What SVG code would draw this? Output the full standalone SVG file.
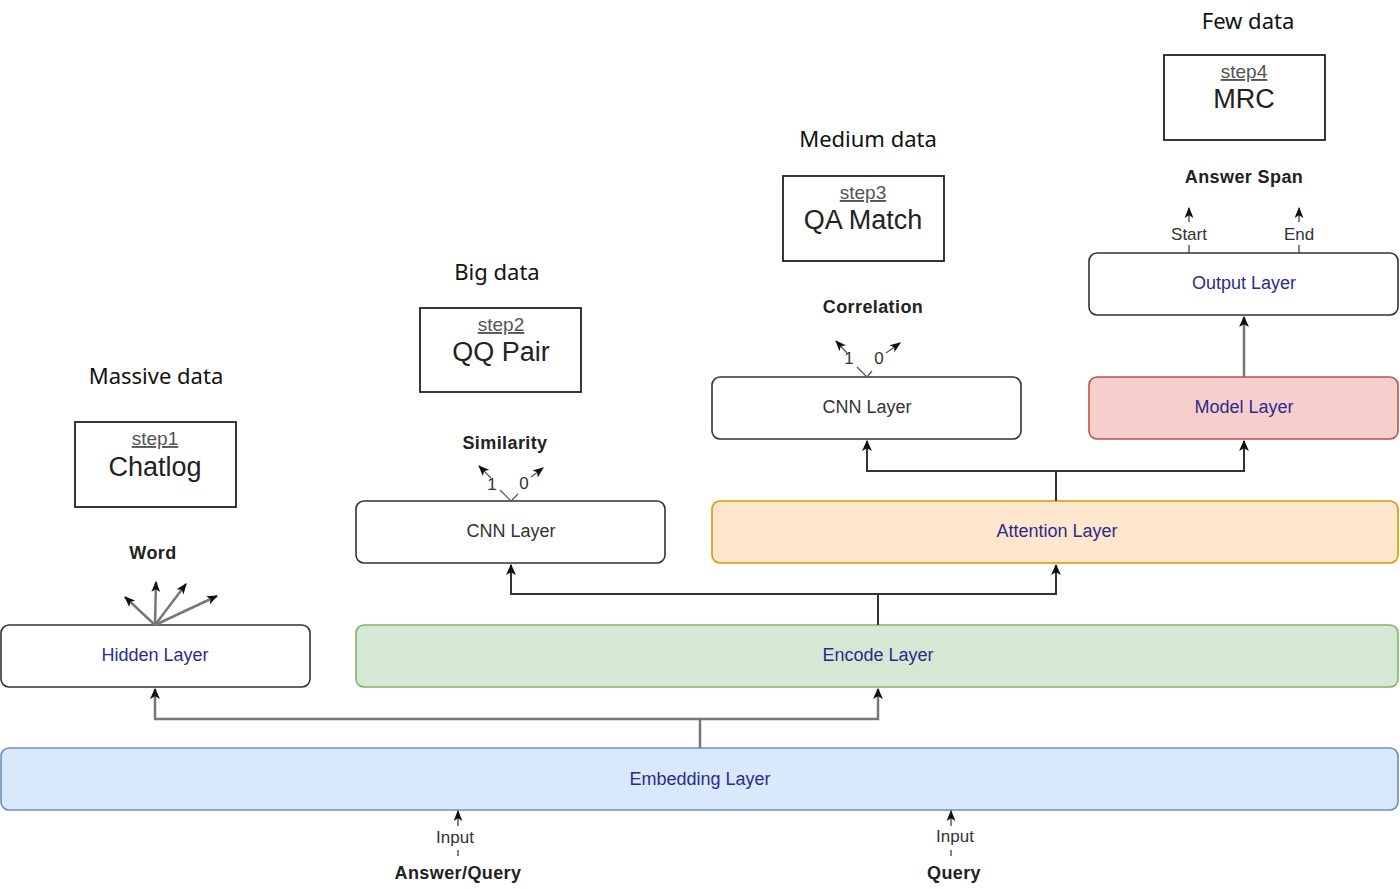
<svg xmlns="http://www.w3.org/2000/svg" width="1400" height="889" viewBox="0 0 1400 889">
<defs>
<marker id="ah" viewBox="0 0 10 10" refX="9" refY="5" markerWidth="11" markerHeight="11" orient="auto" markerUnits="userSpaceOnUse">
<path d="M0,0.5 L10,5 L0,9.5 L2.5,5 Z" fill="#111"/>
</marker>
<marker id="ahs" viewBox="0 0 10 10" refX="9" refY="5" markerWidth="11" markerHeight="11" orient="auto" markerUnits="userSpaceOnUse">
<path d="M0,1 L10,5 L0,9 L2.5,5 Z" fill="#111"/>
</marker>
<style>
.layer{stroke-width:1.6}
.white{fill:#fff;stroke:#333}
.blue{fill:#dae8fc;stroke:#6c8ebf}
.green{fill:#d5e8d4;stroke:#82b366}
.orange{fill:#ffe6cc;stroke:#d79b00}
.red{fill:#f8cecc;stroke:#b85450}
.ltxt{font-family:"Liberation Sans",Arial,sans-serif;font-size:18px;text-anchor:middle;fill:#2b2b8c}
.gtxt{font-family:"Liberation Sans",Arial,sans-serif;font-size:18px;text-anchor:middle;fill:#333}
.step{fill:#fff;stroke:#222;stroke-width:1.8}
.stxt{font-family:"Liberation Sans",Arial,sans-serif;font-size:19px;text-anchor:middle;fill:#555;text-decoration:underline}
.mtxt{font-family:"Liberation Sans",Arial,sans-serif;font-size:27px;text-anchor:middle;fill:#222}
.title{font-family:"Noto Sans","Open Sans",sans-serif;font-size:22px;text-anchor:middle;fill:#111}
.bold{font-family:"Liberation Sans",Arial,sans-serif;font-size:18px;font-weight:bold;text-anchor:middle;fill:#222;letter-spacing:0.4px}
.small{font-family:"Liberation Sans",Arial,sans-serif;font-size:17px;text-anchor:middle;fill:#333}
.c{fill:none;stroke:#333;stroke-width:2}
.cg{fill:none;stroke:#777;stroke-width:2.5}
</style>
</defs>

<g id="titles">
<text class="title" x="156" y="384">Massive data</text>
<text class="title" x="497" y="280">Big data</text>
<text class="title" x="868" y="147">Medium data</text>
<text class="title" x="1248" y="29">Few data</text>
</g>

<g id="step1"><rect class="step" x="75" y="422" width="161" height="85"/><text class="stxt" x="155" y="445">step1</text><text class="mtxt" x="155" y="476">Chatlog</text></g>
<g id="step2"><rect class="step" x="420" y="308" width="161" height="84"/><text class="stxt" x="501" y="331">step2</text><text class="mtxt" x="501" y="361">QQ Pair</text></g>
<g id="step3"><rect class="step" x="783" y="176" width="161" height="85"/><text class="stxt" x="863" y="199">step3</text><text class="mtxt" x="863" y="229">QA Match</text></g>
<g id="step4"><rect class="step" x="1164" y="55" width="161" height="85"/><text class="stxt" x="1244" y="78">step4</text><text class="mtxt" x="1244" y="108">MRC</text></g>

<g id="embedding"><rect class="layer blue" x="1" y="748" width="1397" height="62" rx="8"/><text class="ltxt" x="700" y="785">Embedding Layer</text></g>
<g id="hidden"><rect class="layer white" x="1" y="625" width="309" height="62" rx="8"/><text class="ltxt" x="155" y="661">Hidden Layer</text></g>
<g id="encode"><rect class="layer green" x="356" y="625" width="1042" height="62" rx="8"/><text class="ltxt" x="878" y="661">Encode Layer</text></g>
<g id="cnn1"><rect class="layer white" x="356" y="501" width="309" height="62" rx="8"/><text class="gtxt" x="511" y="537">CNN Layer</text></g>
<g id="attention"><rect class="layer orange" x="712" y="501" width="686" height="62" rx="8"/><text class="ltxt" x="1057" y="537">Attention Layer</text></g>
<g id="cnn2"><rect class="layer white" x="712" y="377" width="309" height="62" rx="8"/><text class="gtxt" x="867" y="413">CNN Layer</text></g>
<g id="model"><rect class="layer red" x="1089" y="377" width="309" height="62" rx="8"/><text class="ltxt" x="1244" y="413">Model Layer</text></g>
<g id="output"><rect class="layer white" x="1089" y="253" width="309" height="62" rx="8"/><text class="ltxt" x="1244" y="289">Output Layer</text></g>

<g id="labels">
<text class="bold" x="153" y="559">Word</text>
<text class="bold" x="505" y="449">Similarity</text>
<text class="bold" x="873" y="313">Correlation</text>
<text class="bold" x="1244" y="183">Answer Span</text>
<text class="bold" x="458" y="879">Answer/Query</text>
<text class="bold" x="954" y="879">Query</text>
</g>

<g id="connectors">
<path class="cg" d="M700,748 V719 H155 V689" marker-end="url(#ah)"/>
<path class="cg" d="M700,719 H878 V689" marker-end="url(#ah)"/>
<path class="c" d="M878,625 V594 H511 V565" marker-end="url(#ah)"/>
<path class="c" d="M878,594 H1056 V565" marker-end="url(#ah)"/>
<path class="c" d="M1056,501 V471 H867 V441" marker-end="url(#ah)"/>
<path class="c" d="M1056,471 H1244 V441" marker-end="url(#ah)"/>
<path class="cg" d="M1244,377 V317" marker-end="url(#ah)"/>
<!-- word fan -->
<path class="cg" d="M155,625 L125,597" marker-end="url(#ahs)"/>
<path class="cg" d="M155,625 L156,582" marker-end="url(#ahs)"/>
<path class="cg" d="M155,625 L186,584" marker-end="url(#ahs)"/>
<path class="cg" d="M155,625 L217,596" marker-end="url(#ahs)"/>
<!-- similarity -->
<path fill="none" stroke="#555" stroke-width="1.2" d="M511,501 L500,490 M491,478 L479,466" marker-end="url(#ahs)"/>
<path fill="none" stroke="#555" stroke-width="1.2" d="M511,501 L518,494 M531,477 L543,468" marker-end="url(#ahs)"/>
<text class="small" x="492" y="490">1</text>
<text class="small" x="524" y="489">0</text>
<!-- correlation -->
<path fill="none" stroke="#555" stroke-width="1.2" d="M867,377 L857,367 M847,353 L836,341" marker-end="url(#ahs)"/>
<path fill="none" stroke="#555" stroke-width="1.2" d="M867,377 L872,371 M886,353 L900,343" marker-end="url(#ahs)"/>
<text class="small" x="849" y="364">1</text>
<text class="small" x="879" y="364">0</text>
<!-- start/end -->
<path fill="none" stroke="#333" stroke-width="1.2" d="M1189,253 V245 M1189,222 V208" marker-end="url(#ahs)"/>
<path fill="none" stroke="#333" stroke-width="1.2" d="M1299,253 V245 M1299,222 V208" marker-end="url(#ahs)"/>
<text class="small" x="1189" y="240">Start</text>
<text class="small" x="1299" y="240">End</text>
<!-- inputs -->
<path fill="none" stroke="#333" stroke-width="1.2" d="M458,856 V850 M458,826 V811" marker-end="url(#ahs)"/>
<path fill="none" stroke="#333" stroke-width="1.2" d="M951,856 V850 M951,826 V811" marker-end="url(#ahs)"/>
<text class="small" x="455" y="843">Input</text>
<text class="small" x="955" y="842">Input</text>
</g>
</svg>
